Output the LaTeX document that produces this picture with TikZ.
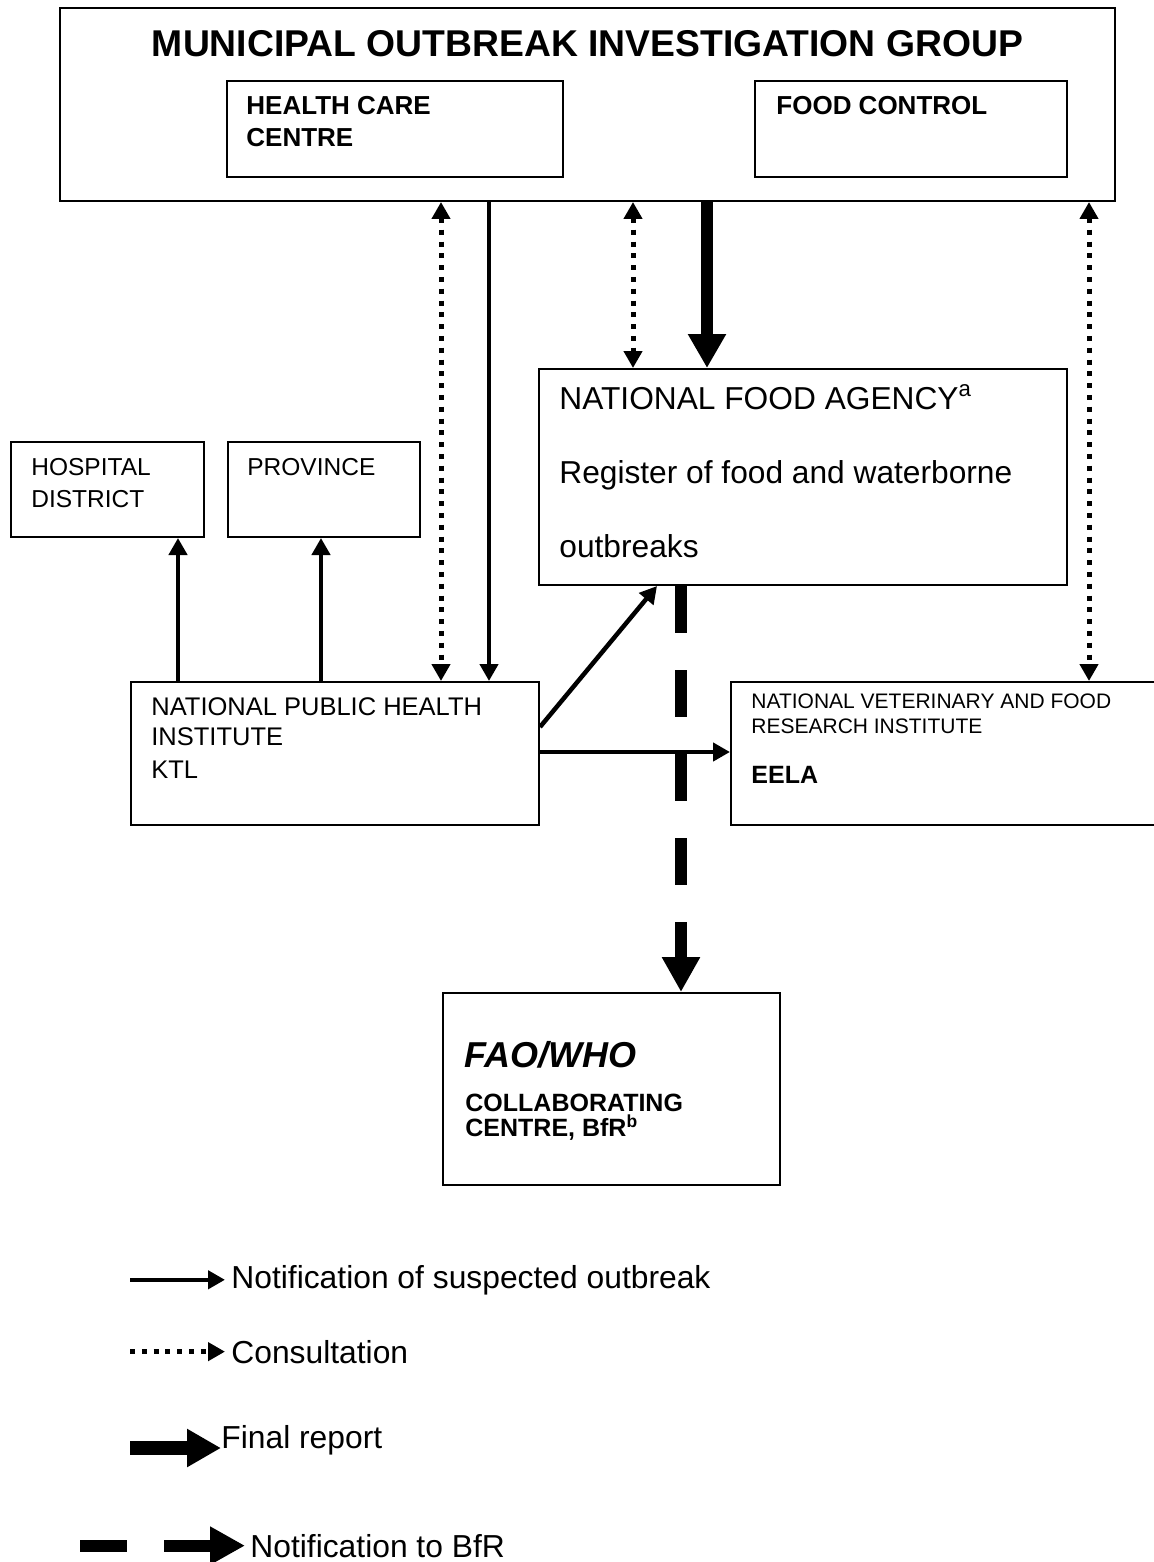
\documentclass[tikz,border=0pt]{standalone}
\usepackage{fontspec}
\setmainfont{Liberation Sans}
\usetikzlibrary{arrows.meta}

\begin{document}
\begin{tikzpicture}[x=0.5pt,y=-0.5pt,>={Triangle[length=8.5pt,width=9pt]},
	box/.style={draw,line width=1pt,inner sep=0pt,anchor=north west},
	txt/.style={inner sep=0pt,anchor=base west,align=left},
	notify/.style={line width=2.25pt,->},
	consult/.style={line width=2.5pt,dash pattern=on 2.5pt off 3.4pt,<->},
	report/.style={line width=5.7pt,-{Triangle[length=17pt,width=18pt]}},
	bfr/.style={line width=6pt,dash pattern=on 23.5pt off 18.5pt,-{Triangle[length=17.5pt,width=18pt]}}]
		\useasboundingbox (0,0) rectangle (1153,1562);
		\node[box,minimum width=527.5pt,minimum height=96.5pt] (muni) at (59,7) {};
		\node[box,minimum width=168pt,minimum height=48pt] (hcc) at (226,80) {};
		\node[box,minimum width=156pt,minimum height=48pt] (fc) at (754,80) {};
		\node[box,minimum width=264pt,minimum height=108pt] (nfa) at (538,368) {};
		\node[box,minimum width=96.5pt,minimum height=47.5pt] (hosp) at (10,441) {};
		\node[box,minimum width=96pt,minimum height=47.5pt] (prov) at (227,441) {};
		\node[box,minimum width=204pt,minimum height=71.5pt] (nphi) at (130,681) {};
		\node[box,minimum width=222.5pt,minimum height=71.5pt] (nvfri) at (730,681) {};
		\node[box,minimum width=168.5pt,minimum height=96pt] (fao) at (442,992) {};

		\node[txt,anchor=base,font=\bfseries\fontsize{18.65}{22}\selectfont] (muni_t) at (muni.north |- 0,57) {MUNICIPAL OUTBREAK INVESTIGATION GROUP};
		\node[txt,font=\bfseries\fontsize{13}{16}\selectfont] (hcc_t) at (246,147) {HEALTH CARE\\CENTRE};
		\node[txt,font=\bfseries\fontsize{13}{16}\selectfont] (fc_t) at (776,115) {FOOD CONTROL};
		\node[txt,font=\fontsize{15.85}{37}\selectfont] (nfa_t) at (559,557) {NATIONAL FOOD AGENCY\textsuperscript{a}\\Register of food and waterborne\\outbreaks};
		\node[txt,font=\fontsize{12.25}{16}\selectfont] (hosp_t) at (31,507) {HOSPITAL\\DISTRICT};
		\node[txt,font=\fontsize{12.25}{16}\selectfont] (prov_t) at (247,475) {PROVINCE};
		\node[txt,font=\fontsize{12.75}{15}\selectfont] (nphi_t) at (151,778) {NATIONAL PUBLIC HEALTH\\INSTITUTE\\[1.5pt]KTL};
		\node[txt,font=\fontsize{10.5}{12.5}\selectfont] (nvfri_t) at (751,733) {NATIONAL VETERINARY AND FOOD\\RESEARCH INSTITUTE};
		\node[txt,font=\bfseries\fontsize{12.5}{15}\selectfont] (eela_t) at (751,783) {EELA};
		\node[txt,font=\bfseries\itshape\fontsize{18}{20}\selectfont] (fao_t) at (464,1067) {FAO/WHO};
		\node[txt,font=\bfseries\fontsize{12.5}{12.5}\selectfont] (cc_t) at (465,1136) {COLLABORATING\\CENTRE, BfR\textsuperscript{b}};

		\draw[consult] (441,0 |- muni.south) -- (441,0 |- nphi.north);
		\draw[notify] (489,0 |- muni.south) -- (489,0 |- nphi.north);
		\draw[consult] (633,0 |- muni.south) -- (633,0 |- nfa.north);
		\draw[report] (707,0 |- muni.south) -- (707,0 |- nfa.north);
		\draw[consult] (1089,0 |- muni.south) -- (1089,0 |- nvfri.north);
		\draw[notify] (178,0 |- nphi.north) -- (178,0 |- hosp.south);
		\draw[notify] (321,0 |- nphi.north) -- (321,0 |- prov.south);
		\draw[notify] (nphi.east |- 0,727) -- (657,0 |- nfa.south);
		\draw[notify] (nphi.east |- 0,752) -- (nvfri.west |- 0,752);
		\draw[bfr] (681,0 |- nfa.south) -- (681,0 |- fao.north);

		\coordinate (key1) at (130,1279);
		\coordinate (key2) at (130,1353);
		\coordinate (key3) at (130,1448);
		\coordinate (key4) at (80,1545);
		\node[txt,inner xsep=3pt,font=\fontsize{15.9}{19}\selectfont] (key1_t) at (225,1288) {Notification of suspected outbreak};
		\node[txt,inner xsep=3pt,font=\fontsize{15.9}{19}\selectfont] (key2_t) at (225,1363) {Consultation};
		\node[txt,font=\fontsize{15.9}{19}\selectfont] (key3_t) at (221,1448) {Final report};
		\node[txt,inner xsep=2.5pt,font=\fontsize{15.9}{19}\selectfont] (key4_t) at (245,1557) {Notification to BfR};
		\draw[notify] (key1_t.west -| key1) -- (key1_t.west);
		\draw[consult,->] (key2_t.west -| key2) -- (key2_t.west);
		\draw[report,line width=7pt] (key3_t.base west -| key3) -- (key3_t.base west);
		\draw[bfr] (key4_t.west -| key4) -- (key4_t.west);
	\end{tikzpicture}
\end{document}
